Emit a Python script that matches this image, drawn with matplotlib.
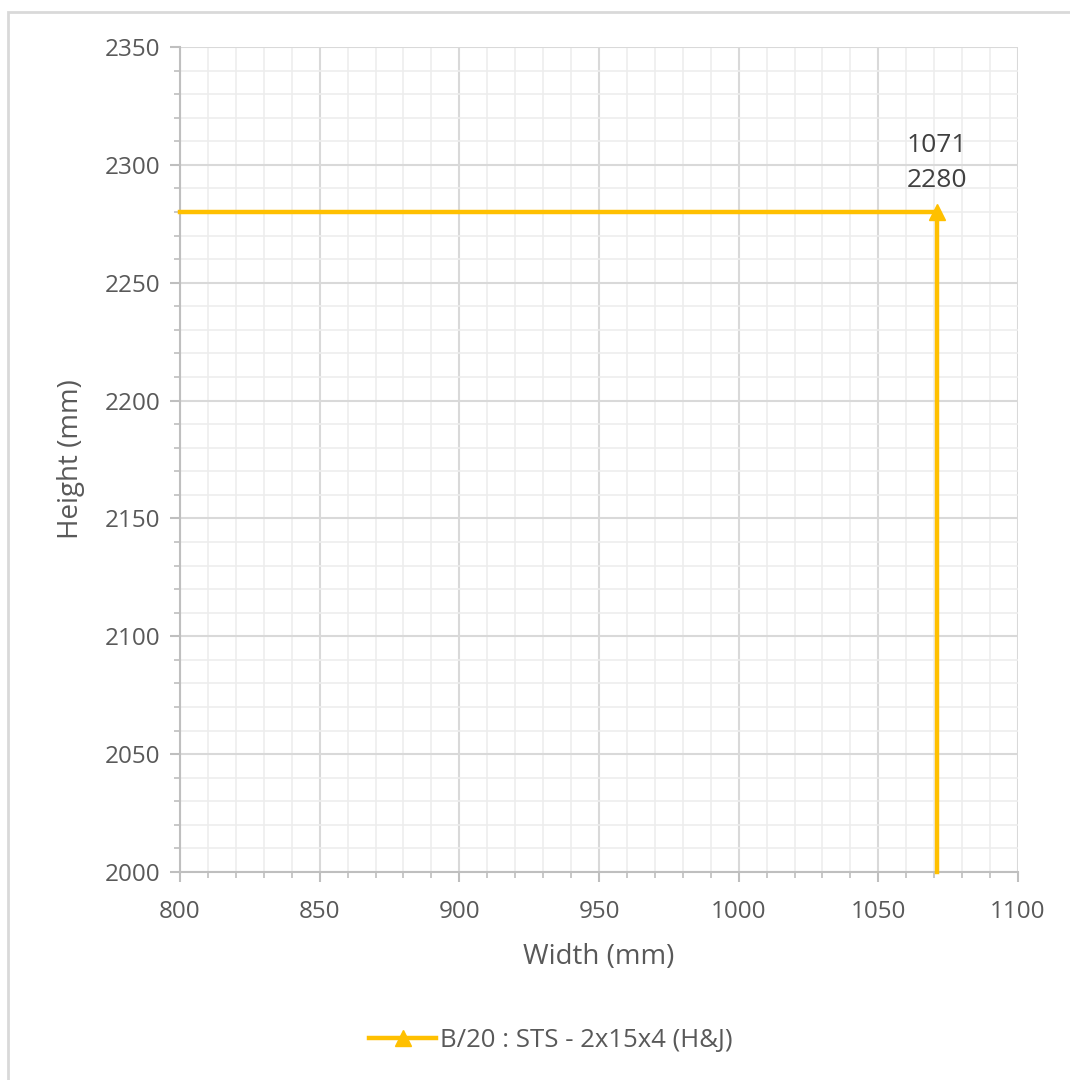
import matplotlib
matplotlib.use("Agg")
import matplotlib.pyplot as plt
from matplotlib.patches import Rectangle
from matplotlib.ticker import MultipleLocator

# Data
series_name = "B/20 : STS - 2x15x4 (H&J)"
line_x = [800, 1071, 1071]
line_y = [2280, 2280, 2000]
point_x = [1071]
point_y = [2280]
x_label = "Width (mm)"
y_label = "Height (mm)"

plt.rcParams['font.family'] = ['Open Sans', 'DejaVu Sans']

gold = "#FFC000"
tick_col = "#595959"

fig = plt.figure(figsize=(10.7, 10.8), dpi=100)
ax = fig.add_axes([180/1070, 1-872/1080, 838/1070, 825/1080])

ax.set_xlim(800, 1100)
ax.set_ylim(2000, 2350)
ax.xaxis.set_major_locator(MultipleLocator(50))
ax.xaxis.set_minor_locator(MultipleLocator(10))
ax.yaxis.set_major_locator(MultipleLocator(50))
ax.yaxis.set_minor_locator(MultipleLocator(10))

ax.grid(which='major', color='#D9D9D9', linewidth=1.5, zorder=0)
ax.grid(which='minor', color='#EDEDED', linewidth=1.2, zorder=0)
for s in ['top', 'right']:
    ax.spines[s].set_visible(False)
for s in ['left', 'bottom']:
    ax.spines[s].set_color('#BFBFBF')
    ax.spines[s].set_linewidth(1.5)

ax.tick_params(which='both', direction='out', colors='#BFBFBF', labelcolor=tick_col)
ax.tick_params(which='major', length=7, width=1.5, labelsize=17.5, pad=7)
ax.tick_params(axis='x', which='major', pad=13)
ax.tick_params(which='minor', length=4, width=1.2)

ax.plot(line_x, line_y, color=gold, linewidth=3.2, zorder=3, clip_on=False,
        solid_joinstyle='miter')
ax.plot(point_x, point_y, linestyle='none', marker='^', markersize=12,
        color=gold, zorder=4, clip_on=False)
for px, py in zip(point_x, point_y):
    ax.annotate(f"{px}\n{py}", (px, py), xytext=(0, 14), textcoords='offset points',
                ha='center', va='bottom', fontsize=19, color='#404040',
                linespacing=1.5)

ax.set_xlabel(x_label, fontsize=20, color=tick_col, labelpad=14)
ax.set_ylabel(y_label, fontsize=20, color=tick_col, labelpad=14)

# legend
h, = ax.plot([], [], color=gold, linewidth=3.2, marker='^', markersize=11)
fig.legend([h], [series_name], loc='center', bbox_to_anchor=(0.515, 1-1040/1080),
           frameon=False, fontsize=18.5, labelcolor=tick_col, handlelength=2.6,
           handletextpad=0.15)

# chart border
fig.patches.append(Rectangle((8/1070, -0.05), 1.2, 1-12/1080+0.05,
                             transform=fig.transFigure, fill=False,
                             edgecolor='#D9D9D9', linewidth=2))

fig.savefig("out.png", dpi=100)
